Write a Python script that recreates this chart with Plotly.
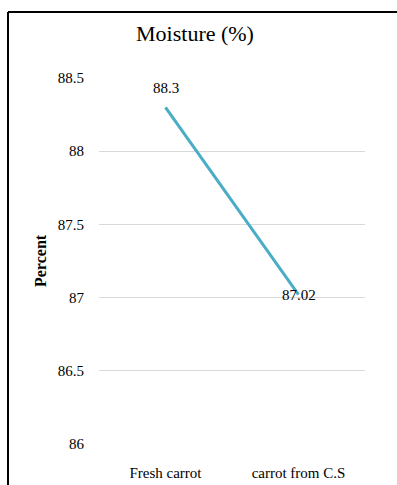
import plotly.graph_objects as go

# Chart data
categories = ["Fresh carrot", "carrot from C.S"]
moisture = [88.3, 87.02]
value_labels = ["88.3", "87.02"]
label_yshift = [19, 0]
y_ticks = [86, 86.5, 87, 87.5, 88, 88.5]
y_tick_labels = ["86", "86.5", "87", "87.5", "88", "88.5"]

W, H = 397, 485
ML, MR, MT, MB = 99, 32, 78, 41
serif = "Liberation Serif, Times New Roman, serif"
line_color = "#4BACC6"

fig = go.Figure()
fig.add_trace(go.Scatter(
    x=categories,
    y=moisture,
    mode="lines",
    line=dict(color=line_color, width=3),
    hoverinfo="skip",
    showlegend=False,
))

# Value labels
for c, v, t, s in zip(categories, moisture, value_labels, label_yshift):
    fig.add_annotation(
        x=c, y=v, text=t, showarrow=False, yshift=s,
        font=dict(family=serif, size=15, color="black"),
        xanchor="center", yanchor="middle",
    )

pw = W - ML - MR
ph = H - MT - MB

# Axis title
fig.add_annotation(
    xref="paper", yref="paper",
    x=(40 - ML) / pw, y=0.5,
    text="<b>Percent</b>", textangle=-90, showarrow=False,
    font=dict(family=serif, size=16, color="black"),
    xanchor="center", yanchor="middle",
)

# Outer frame: top and left edges
x_left = (8 - ML) / pw
y_top = (H - MB - 12) / ph
fig.add_shape(type="line", xref="paper", yref="paper",
              x0=x_left, x1=(W + 5 - ML) / pw, y0=y_top, y1=y_top,
              line=dict(color="black", width=2))
fig.add_shape(type="line", xref="paper", yref="paper",
              x0=x_left, x1=x_left, y0=y_top, y1=-(MB + 30) / ph,
              line=dict(color="black", width=2))

fig.update_layout(
    width=W, height=H,
    margin=dict(l=ML, r=MR, t=MT, b=MB),
    paper_bgcolor="white",
    plot_bgcolor="white",
    title=dict(
        text="Moisture (%)",
        x=195 / W, xref="container", xanchor="center",
        y=1 - 33 / H, yref="container", yanchor="middle",
        font=dict(family=serif, size=22, color="black"),
    ),
    xaxis=dict(
        type="category",
        range=[-0.5, len(categories) - 0.5],
        showgrid=False, zeroline=False, showline=False,
        ticks="", ticklabelstandoff=18, automargin=False,
        tickfont=dict(family=serif, size=15, color="black"),
    ),
    yaxis=dict(
        range=[86, 88.5],
        tickvals=y_ticks, ticktext=y_tick_labels,
        showgrid=True, gridcolor="#D9D9D9", gridwidth=1,
        zeroline=False, showline=False,
        ticks="", ticklabelstandoff=14, automargin=False,
        tickfont=dict(family=serif, size=15, color="black"),
    ),
)

fig.write_html("out.html")
